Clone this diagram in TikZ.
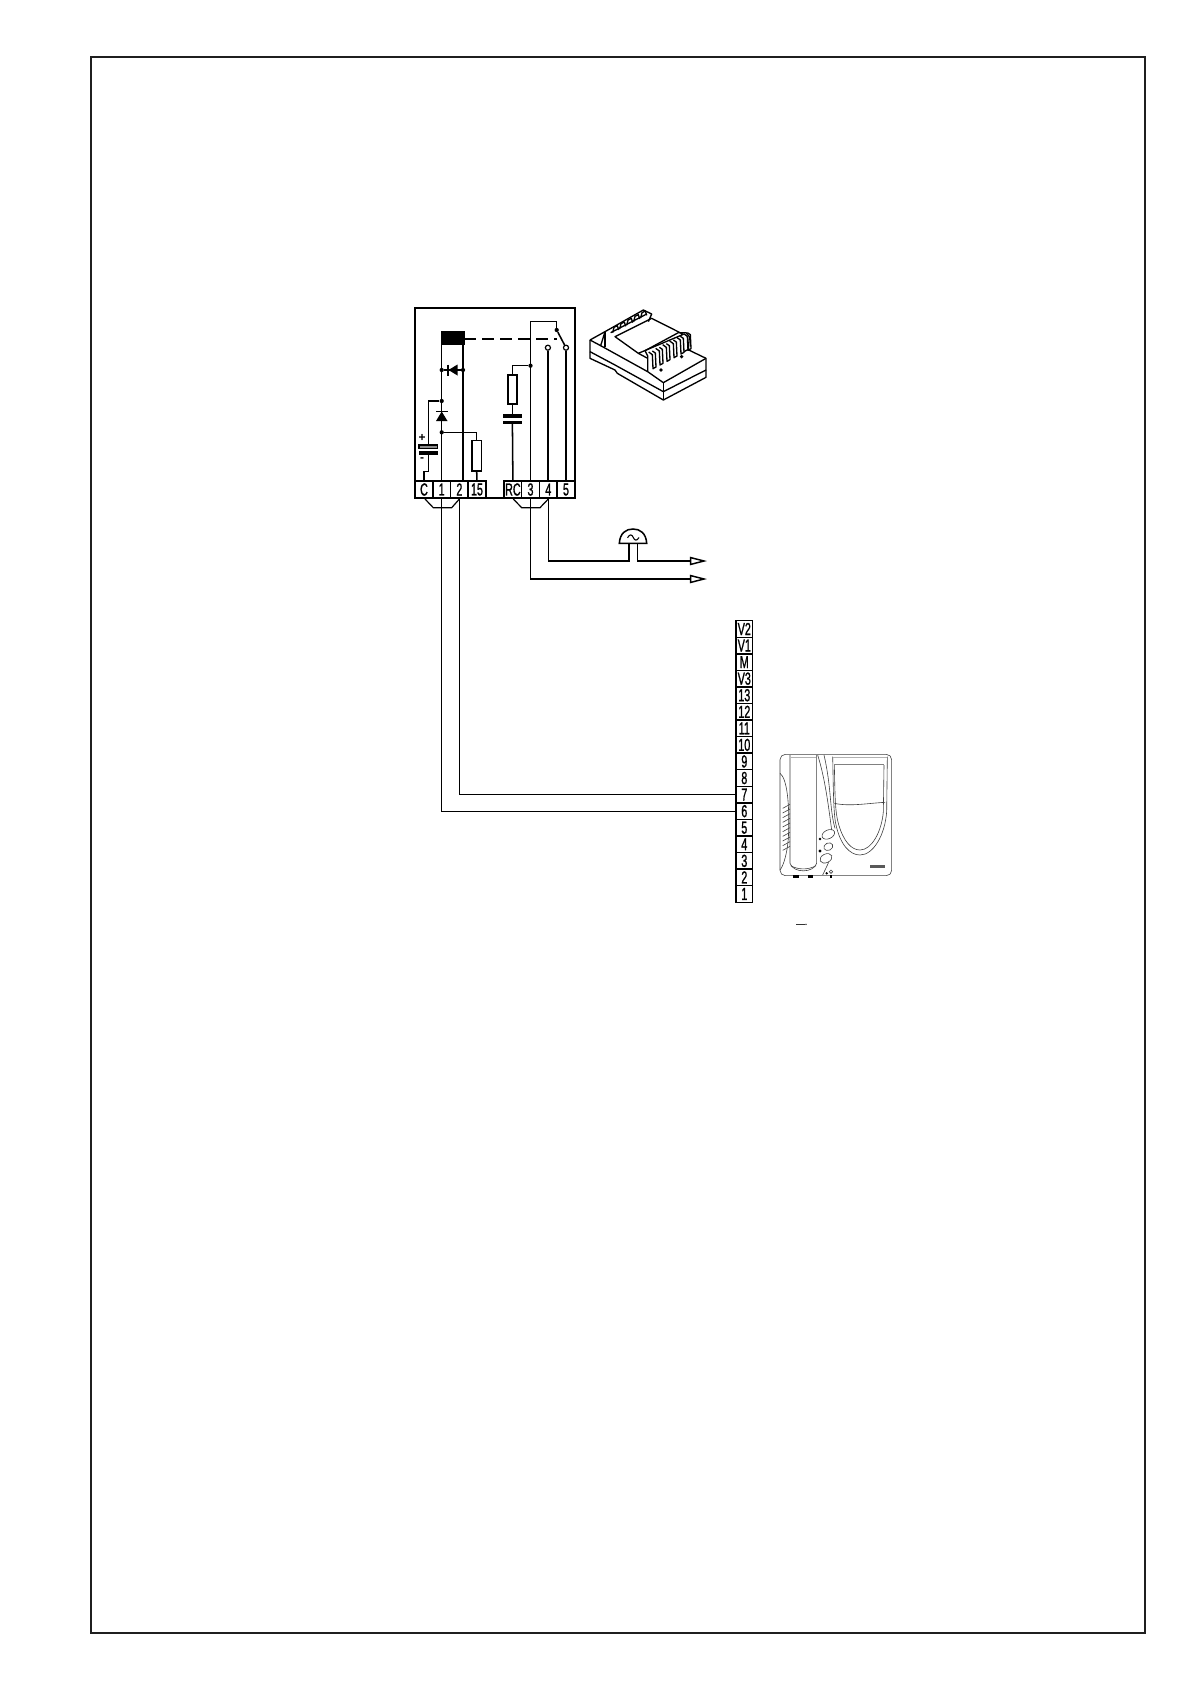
\documentclass[tikz,border=0pt]{standalone}
\usepackage{graphicx}
\usepackage{fontspec}
\setmainfont{Liberation Sans}
\newfontfamily\lblfont[FakeBold=1.4]{Liberation Sans}
\newcommand\lbl[1]{\scalebox{0.62}[1]{\lblfont\fontsize{13}{13}\selectfont #1}}
\tikzset{
 wire/.style={line width=1.15pt,line join=miter},
 linkwire/.style={line width=.95pt,line join=miter},
 frameline/.style={line width=1.5pt,black!88},
 termbox/.style={draw,line width=1.15pt,minimum width=13.2pt,minimum height=12.7pt,inner sep=0pt,outer sep=0pt},
 stripbox/.style={draw,line width=1.05pt,minimum width=12.5pt,minimum height=12.42pt,inner sep=0pt,outer sep=0pt},
 comp/.style={draw,line width=1.15pt,fill=white},
 solder/.style={circle,fill=black,inner sep=0pt,minimum size=3.2pt},
 opencontact/.style={circle,draw,fill=white,line width=.9pt,inner sep=0pt,minimum size=3.8pt},
 tipopen/.style={draw,line width=1.1pt,fill=white},
 drawing/.style={line width=1pt,line join=round},
 fine/.style={line width=.45pt,black!75},
}
\begin{document}
\begin{tikzpicture}[x=.75pt,y=-.75pt]
\useasboundingbox (0,0) rectangle (1190,1684);
\fill[white] (0,0) rectangle (1190,1684);
\draw[frameline] (91,57) rectangle (1145,1633);

% module outline
\coordinate (bTL) at (415,308); \coordinate (bTR) at (575,308);
\coordinate (bBL) at (415,498); \coordinate (bBR) at (575,498);
\draw[wire] (bBL) -- (bTL) -- (bTR) -- (bBR) -- cycle;
% terminals
\foreach \nm/\lab/\xx in {tC/C/424,t1/1/441.7,t2/2/459.4,t15/15/477,tRC/RC/512.9,t3/3/530.5,t4/4/548.3,t5/5/566}
  \node[termbox] (\nm) at (\xx,489.5) {\lbl{\lab}};

% coil and wires
\node[draw,fill=black,inner sep=0pt,minimum width=17pt,minimum height=10pt] (coil) at (452.5,337.5) {};
\coordinate (c2) at (463,345);
\coordinate (c1) at (441.7,345);
\draw[wire] (c1) -- (t1.north);
\draw[wire] (c2) -- (c2 |- t2.north);
% dashed link
\coordinate (swmid) at (557,339);
\draw[wire,dash pattern=on 9pt off 4.5pt] (coil.east |- swmid) -- (swmid);
% horizontal diode
\node[solder] (d1a) at (441.7,370) {};
\node[solder] (d1b) at (463,370) {};
\draw[wire] (d1a) -- (d1b);
\fill (448.5,370) -- (457.5,364.5) -- (457.5,375.5) -- cycle;
\draw[wire] (448,364.5) -- (448,375.5);
% vertical diode
\node[solder] (d2a) at (441.7,401) {};
\node[solder] (d2b) at (441.7,432.3) {};
\fill (441.7,411.5) -- (436,421) -- (447.5,421) -- cycle;
\draw[wire] (436,411.5) -- (447.5,411.5);
% electrolytic capacitor
\coordinate (capL) at (428.3,445);
\draw[wire] (d2a) -- (capL |- d2a) -- (capL);
\draw[line width=.9pt,fill=black!45] (419,445) rectangle (437.5,448.5);
\fill (418.5,451) rectangle (437.8,455);
\coordinate (capLb) at (428.3,455);
\coordinate (capLc) at (428.3,471.7);
\draw[wire] (capLb) -- (capLc) -- (tC.north |- capLc) -- (tC.north);
\node[inner sep=0pt] (plus) at (422,438) {\fontsize{9}{9}\selectfont\bfseries +};
\node[inner sep=0pt] (minus) at (422,460) {\fontsize{9}{9}\selectfont\bfseries -};
% resistor 15
\node[comp,minimum width=7pt,minimum height=22.7pt,inner sep=0pt] (r15) at (476.7,455.8) {};
\draw[wire] (d2b) -- (r15.north |- d2b) -- (r15.north);
\draw[wire] (r15.south) -- (t15.north);
% relay contacts
\coordinate (top3) at (530.5,321.7);
\coordinate (top5) at (556.7,321.7);
\node[solder] (swp) at (556.7,330) {};
\node[opencontact] (c4) at (547.9,347.7) {};
\node[opencontact] (c5) at (566,347.7) {};
\draw[wire] (t3.north) -- (top3) -- (top5) -- (swp);
\draw[wire] (swp) -- (c5);
\draw[wire] (c4) -- (c4 |- t4.north);
\draw[wire] (c5) -- (t5.north);
% RC branch
\node[solder] (rcj) at (530.5,365.7) {};
\node[comp,minimum width=7pt,minimum height=22pt,inner sep=0pt] (rr) at (512.4,389.5) {};
\draw[wire] (rcj) -- (rr.north |- rcj) -- (rr.north);
\coordinate (pl1) at (512.4,414);
\coordinate (pl2) at (512.4,424);
\draw[wire] (rr.south) -- (pl1);
\draw[wire] (pl2) -- (tRC.north);
\fill (502.7,414) rectangle (521.7,418.2);
\fill (502.7,420.7) rectangle (521.7,424);

% brackets under terminals
\coordinate (b1) at (433.3,507.7); \coordinate (b2) at (451.7,507.7);
\draw[line width=.9pt] (425,499) -- (b1) -- (b2) -- (459.4,499);
\coordinate (b3) at (521.7,507.7); \coordinate (b4) at (540,507.7);
\draw[line width=.9pt] (513.3,499) -- (b3) -- (b4) -- (548.3,499);

% terminal strip
\foreach \lab [count=\i from 1] in {V2,V1,M,V3,13,12,11,10,9,8,7,6,5,4,3,2,1}
  \node[stripbox] (s\i) at (744.3,{620.7+(\i-.5)*16.56}) {\lbl{\lab}};

% links to strip
\coordinate (k1) at (441.7,810.7);
\coordinate (k2) at (459.4,794);
\draw[linkwire] (t1.south) -- (k1 |- s12.west) -- (s12.west);
\draw[linkwire] (t2.south) -- (k2 |- s11.west) -- (s11.west);

% bell and outputs
\coordinate (w4) at (548.3,561);
\coordinate (w3) at (530.5,579);
\coordinate (bl) at (629,543.3); \coordinate (br) at (637.4,543.3);
\coordinate (a1) at (690.7,561); \coordinate (a2) at (690.7,579);
\draw[wire] (t4.south) -- (w4) -- (bl |- w4) -- (bl);
\draw[wire] (br) -- (br |- w4) -- (a1);
\draw[wire] (t3.south) -- (w3) -- (a2);
\draw[tipopen] (a1) -- ++(0,-3.4) -- ++(13.3,3.4) -- ++(-13.3,3.4) -- cycle;
\draw[tipopen] (a2) -- ++(0,-3.4) -- ++(13.3,3.4) -- ++(-13.3,3.4) -- cycle;
\draw[comp] (619.3,543.3) .. controls (620,533) and (626,529) .. (633,529) .. controls (640,529) and (646,533) .. (646.7,543.3) -- cycle;
\draw[line width=.8pt] (627.5,537.8) .. controls (630,533.5) and (632,534.5) .. (633.3,537.5) .. controls (634.6,540.5) and (636.6,541.5) .. (639,537.5);

% isometric module picture (coordinates of a 3x crop)
\begin{scope}[shift={(580,290)},x=.25pt,y=-.25pt]
\draw[drawing] (30,150) -- (30,205) -- (105,240) -- (112,250) -- (250,330) -- (378,262) -- (378,205) -- (322,178);
\draw[drawing] (30,150) -- (75,125) -- (190,60) -- (215,72) -- (205,95);
\draw[drawing] (30,150) -- (62,167) -- (75,125);
\draw[drawing] (75,125) -- (75,172);
\draw[drawing] (30,185) -- (105,225) -- (250,305) -- (378,240);
\draw[drawing] (62,167) -- (203,245) -- (250,278) -- (378,205);
\draw[drawing] (250,278) -- (250,330);
\draw[drawing] (105,140) -- (215,85) -- (310,133) -- (175,190) -- cycle;
\draw[drawing] (175,190) -- (203,205);
\draw[drawing] (92,128) -- (200,72);
\draw[drawing] (203,245) -- (203,198) -- (195,182) -- (295,128) -- (318,128) -- (328,140) -- (325,178) -- (312,185);
\foreach \i in {0,...,4}{
  \draw[drawing] ({98+\i*21},{128-\i*11}) -- ({102+\i*21},{112-\i*11}) -- ({112+\i*21},{107-\i*11}) -- ({116+\i*21},{120-\i*11});
}
\foreach \i in {0,...,5}{
  \draw[drawing] ({206+\i*21},{186-\i*11}) -- ({217+\i*21},{194-\i*11}) -- ({219+\i*21},{236-\i*11}) -- ({228+\i*21},{231-\i*11}) -- ({226+\i*21},{189-\i*11}) -- ({217+\i*21},{183-\i*11});
}
\fill (243,240) circle (1.4pt);
\fill (305,200) circle (1.4pt);
\end{scope}

% handset picture (coordinates of a 3x crop)
\begin{scope}[shift={(770,745)},x=.25pt,y=-.25pt]
\draw[fine,rounded corners=4pt] (30,28) rectangle (365,392);
\draw[fine] (60,30) -- (60,355) .. controls (70,385) and (130,385) .. (140,355) -- (140,30);
\draw[fine] (62,362) .. controls (85,375) and (115,375) .. (138,362);
\draw[line width=.8pt,black!30] (62,38) -- (138,38);
\draw[fine] (30,85) .. controls (50,100) and (60,170) .. (55,280) .. controls (52,320) and (42,360) .. (30,375);
\foreach \i in {0,...,9}
  \draw[fine] ({38},{190+\i*14}) -- (60,{178+\i*14});
\fill (70,391) rectangle (86,398);
\fill (114,391) rectangle (130,398);
\draw[fine] (143,30) .. controls (165,100) and (175,180) .. (185,255);
\draw[fine] (162,30) .. controls (185,130) and (178,190) .. (195,250);
\draw[fine,rotate around={25:(175,268)}] (175,268) ellipse (20 and 13);
\draw[fine,rotate around={25:(175,305)}] (175,305) ellipse (14 and 11);
\draw[fine,rotate around={25:(168,340)}] (168,340) ellipse (19 and 13);
\draw[fine] (158,390) -- (176,352);
\draw[fine] (183,380) circle (5);
\fill (179,390) rectangle (187,398);
\fill (150,282) circle (1pt);
\fill (150,318) circle (1.2pt);
\fill (170,385) circle (1pt);
\draw[fine] (188,35) .. controls (190,120) and (190,200) .. (197,235) .. controls (210,300) and (240,330) .. (270,330) .. controls (310,330) and (345,270) .. (350,200) -- (352,35);
\draw[fine] (193,60) .. controls (195,150) and (195,200) .. (205,235) .. controls (220,290) and (245,315) .. (270,315) .. controls (305,315) and (335,260) .. (340,200) -- (342,60);
\draw[line width=.8pt,black!30] (188,38) -- (352,38);
\draw[line width=.3pt,black!50] (192,58) -- (343,58);
\draw[fine] (193,175) .. controls (240,185) and (290,175) .. (345,172);
\fill[black!65] (300,361) rectangle (345,369);
\draw[line width=.9pt,black!80] (78,538) -- (104,538);
\fill (108,538) circle (.5pt);
\end{scope}
\end{tikzpicture}
\end{document}
